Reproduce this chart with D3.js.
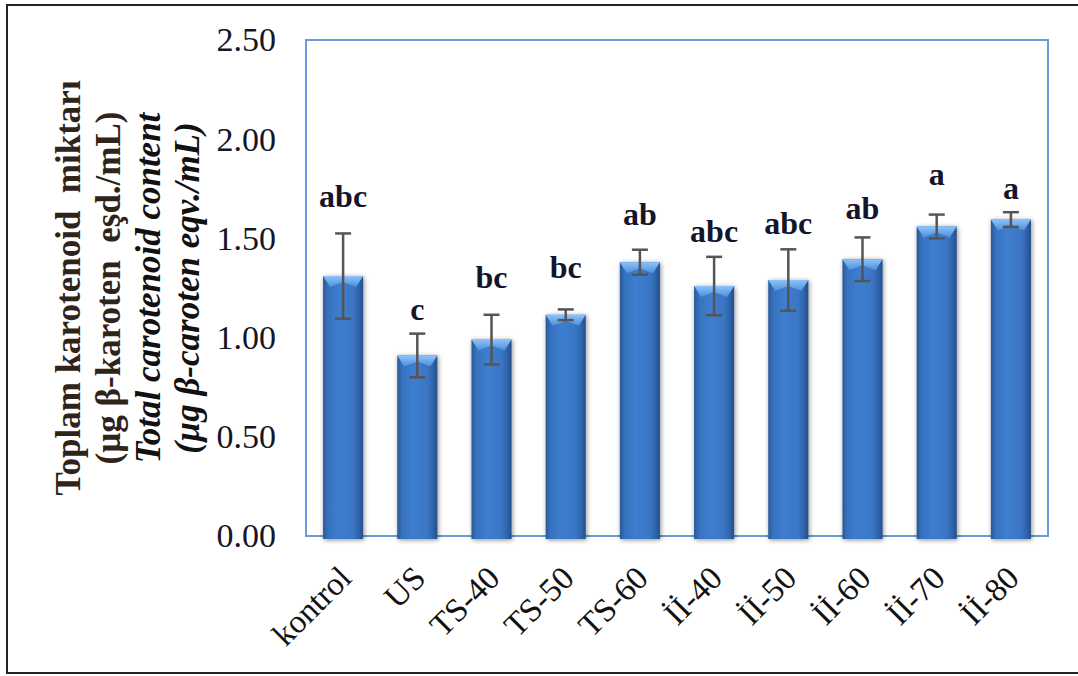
<!DOCTYPE html>
<html><head><meta charset="utf-8">
<script src="https://cdn.jsdelivr.net/npm/d3@7"></script>
<style>body{margin:0;background:#fff}svg{display:block}</style>
</head><body>
<svg id="chart" width="1078" height="676"></svg>
<script>
// Total carotenoid content per treatment (mean ± SD) with significance groups
const categories = ["kontrol", "US", "TS-40", "TS-50", "TS-60", "İİ-40", "İİ-50", "İİ-60", "İİ-70", "İİ-80"];
const means = [1.31, 0.91, 0.99, 1.115, 1.38, 1.26, 1.29, 1.395, 1.56, 1.595];
const sds = [0.215, 0.11, 0.125, 0.027, 0.063, 0.147, 0.155, 0.11, 0.06, 0.037];
const groupLetters = ["abc", "c", "bc", "bc", "ab", "abc", "abc", "ab", "a", "a"];
const letterLevels = [1.66, 1.09, 1.25, 1.30, 1.57, 1.48, 1.52, 1.60, 1.77, 1.70];
const yTicks = [0, 0.5, 1.0, 1.5, 2.0, 2.5];
const titleLines = [
  { text: "Toplam karotenoid\u00a0\u00a0miktarı", italic: false, color: "#2e241a" },
  { text: "(µg β-karoten\u00a0\u00a0eşd./mL)", italic: false, color: "#2e241a" },
  { text: "Total carotenoid content", italic: true, color: "#111" },
  { text: "(µg β-caroten eqv./mL)", italic: true, color: "#111" }
];

const svg = d3.select("#chart");
const plot = { left: 306, right: 1048, top: 40, bottom: 536 };
const serif = "'Liberation Serif','Times New Roman',serif";

// outer frame
svg.append("rect").attr("x", 7).attr("y", 5).attr("width", 1090).attr("height", 668)
  .attr("fill", "#fff").attr("stroke", "#222").attr("stroke-width", 2);

const x = d3.scaleBand().domain(categories).range([plot.left, plot.right]).paddingInner(0.46).paddingOuter(0.23);
const y = d3.scaleLinear().domain([0, 2.5]).range([plot.bottom, plot.top]);

const defs = svg.append("defs");
const body = defs.append("linearGradient").attr("id", "barBody").attr("x1", 0).attr("x2", 1).attr("y1", 0).attr("y2", 0);
[[0, "#2a5894"], [0.12, "#3672be"], [0.4, "#3e7ecf"], [0.75, "#3a76c4"], [0.9, "#2f62a8"], [1, "#244e88"]]
  .forEach(([o, c]) => body.append("stop").attr("offset", o).attr("stop-color", c));
const cap = defs.append("linearGradient").attr("id", "barCap").attr("x1", 0).attr("x2", 0).attr("y1", 0).attr("y2", 1);
[[0, "#8cc3fa"], [1, "#4d8fdc"]].forEach(([o, c]) => cap.append("stop").attr("offset", o).attr("stop-color", c));
const shadow = defs.append("filter").attr("id", "barShadow").attr("x", "-30%").attr("y", "-10%").attr("width", "160%").attr("height", "120%");
shadow.append("feGaussianBlur").attr("in", "SourceAlpha").attr("stdDeviation", 2.5).attr("result", "b");
shadow.append("feOffset").attr("in", "b").attr("dx", 1).attr("dy", 1).attr("result", "o");
shadow.append("feComponentTransfer").attr("in", "o").attr("result", "s")
  .append("feFuncA").attr("type", "linear").attr("slope", 0.45);
const merge = shadow.append("feMerge");
merge.append("feMergeNode").attr("in", "s");
merge.append("feMergeNode").attr("in", "SourceGraphic");

// plot area border
svg.append("rect").attr("x", plot.left).attr("y", plot.top)
  .attr("width", plot.right - plot.left).attr("height", plot.bottom - plot.top)
  .attr("fill", "none").attr("stroke", "#6b9ad8").attr("stroke-width", 2);

// bars
const bars = svg.append("g").selectAll("g").data(categories).join("g")
  .attr("filter", "url(#barShadow)");
bars.append("rect")
  .attr("x", d => x(d)).attr("width", x.bandwidth())
  .attr("y", (d, i) => y(means[i])).attr("height", (d, i) => y(0) - y(means[i]) + 3)
  .attr("fill", "url(#barBody)");
bars.append("path")
  .attr("d", (d, i) => {
    const x0 = x(d), w = x.bandwidth(), t = y(means[i]);
    return `M${x0},${t}L${x0 + w},${t}L${x0 + w - 7},${t + 11}L${x0 + w / 2},${t + 6}L${x0 + 7},${t + 11}Z`;
  })
  .attr("fill", "url(#barCap)");

// error bars
const err = svg.append("g").attr("stroke", "#555").attr("stroke-width", 2.5).attr("fill", "none");
categories.forEach((c, i) => {
  const cx = x(c) + x.bandwidth() / 2;
  const hi = y(means[i] + sds[i]), lo = y(means[i] - sds[i]);
  err.append("line").attr("x1", cx).attr("x2", cx).attr("y1", hi).attr("y2", lo);
  err.append("line").attr("x1", cx - 8).attr("x2", cx + 8).attr("y1", hi).attr("y2", hi);
  err.append("line").attr("x1", cx - 8).attr("x2", cx + 8).attr("y1", lo).attr("y2", lo);
});

// significance letters
svg.append("g").selectAll("text").data(categories).join("text")
  .attr("x", d => x(d) + x.bandwidth() / 2)
  .attr("y", (d, i) => y(letterLevels[i]))
  .attr("text-anchor", "middle")
  .attr("font-family", serif).attr("font-weight", "bold").attr("font-size", 32)
  .attr("fill", "#14142a")
  .text((d, i) => groupLetters[i]);

// y axis
const yAxis = svg.append("g").attr("transform", `translate(${plot.left},0)`)
  .call(d3.axisLeft(y).tickValues(yTicks).tickFormat(d3.format(".2f")).tickSize(0).tickPadding(30));
yAxis.select(".domain").remove();
yAxis.selectAll("text").attr("font-family", serif).attr("font-size", 34).attr("fill", "#15152a");

// x axis
const xAxis = svg.append("g").attr("transform", `translate(0,${plot.bottom})`)
  .call(d3.axisBottom(x).tickSize(0));
xAxis.select(".domain").remove();
xAxis.selectAll("text")
  .attr("font-family", serif).attr("font-size", 33).attr("fill", "#111")
  .attr("text-anchor", "end").attr("dy", null)
  .attr("transform", "translate(8,42) rotate(-45)");

// y axis title
const title = svg.append("g").attr("transform", `translate(0,${(plot.top + plot.bottom) / 2}) rotate(-90)`);
const baselines = [80, 120, 160, 199];
titleLines.forEach((l, i) => {
  title.append("text").attr("x", 0).attr("y", baselines[i])
    .attr("text-anchor", "middle")
    .attr("font-family", serif).attr("font-weight", "bold").attr("font-size", 35)
    .attr("font-style", l.italic ? "italic" : "normal")
    .attr("fill", l.color)
    .text(l.text);
});
</script>
</body></html>
